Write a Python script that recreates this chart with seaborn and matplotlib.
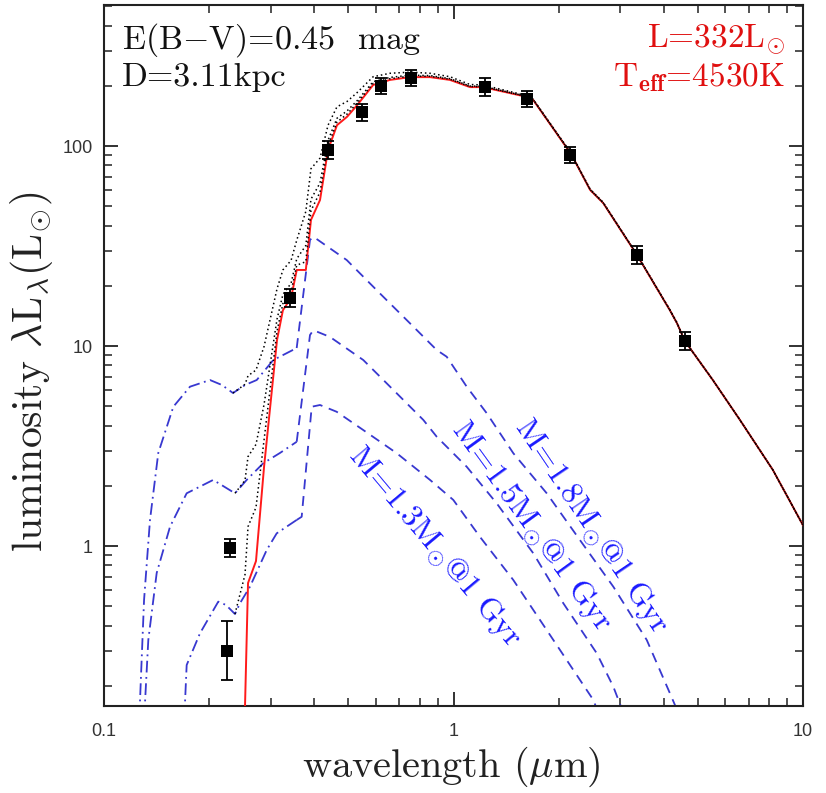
import matplotlib
matplotlib.use("Agg")
import matplotlib.pyplot as plt
import matplotlib.ticker as mticker
import seaborn as sns

# Broad-band photometry (dereddened), wavelength in micron, lambda*L_lambda in L_sun
phot_wave = [0.2255, 0.229, 0.34, 0.438, 0.547, 0.62, 0.755, 1.23, 1.62, 2.15, 3.35, 4.6]
phot_lum = [0.30, 0.98, 17.4, 95.5, 148, 200, 219, 197, 172, 90, 28.5, 10.6]
phot_err_lo = [0.086, 0.095, 1.7, 9, 14, 17, 20, 20, 16, 8, 2.7, 1.0]
phot_err_hi = [0.12, 0.105, 1.8, 10, 15, 18, 21, 21, 17, 9, 3.0, 1.1]

# Giant photosphere model (L=332 Lsun, Teff=4530 K)
star_wave = [0.2510, 0.2532, 0.2583, 0.2722, 0.287, 0.3126, 0.325, 0.343, 0.356, 0.378,
             0.391, 0.415, 0.4375, 0.464, 0.496, 0.530, 0.589, 0.658, 0.751, 0.857,
             0.977, 1.115, 1.214, 1.623, 1.69, 2.17, 2.46, 2.68, 3.35, 4.16,
             4.36, 4.59, 5.52, 6.6, 8.2, 10.0]
star_lum = [0.05, 0.158, 0.653, 0.841, 2.48, 10.7, 15.1, 17.4, 24, 24,
            42.7, 53.7, 95.5, 127, 140, 160, 202, 214, 221, 221,
            214, 197, 197, 176, 170, 91.2, 60.3, 51.9, 28.5, 15.1,
            13.0, 10.6, 6.76, 4.27, 2.40, 1.27]

# Companion models at 1 Gyr: UV part (dash-dot) and optical/IR part (dashed)
m18_uv_wave = [0.1259, 0.1268, 0.1302, 0.1354, 0.1430, 0.1579, 0.1762, 0.2010, 0.2176,
               0.2339, 0.2532, 0.2735, 0.3051, 0.3559]
m18_uv_lum = [0.107, 0.170, 0.537, 1.35, 2.92, 4.97, 6.26, 6.76, 6.38,
              5.82, 6.38, 6.76, 8.51, 9.77]
m18_vis_wave = [0.3559, 0.3885, 0.3971, 0.4949, 0.6162, 0.7674, 0.8952, 0.9561, 1.091,
                1.245, 1.483, 1.848, 2.301, 2.866, 3.572, 4.164, 4.75]
m18_vis_lum = [9.77, 33.9, 35.2, 26.9, 18.3, 12.5, 9.55, 8.84, 6.26,
               4.61, 2.91, 1.835, 1.07, 0.626, 0.339, 0.183, 0.107]

m15_uv_wave = [0.1302, 0.1310, 0.1339, 0.1415, 0.1545, 0.1724, 0.2053, 0.2370, 0.2560,
               0.2853, 0.3189, 0.3559]
m15_uv_lum = [0.107, 0.164, 0.339, 0.733, 1.249, 1.835, 2.14, 1.835, 2.14,
              2.59, 2.92, 3.32]
m15_vis_wave = [0.3559, 0.3885, 0.3971, 0.4432, 0.5519, 0.6880, 0.8196, 0.8952, 1.091,
                1.329, 1.692, 2.062, 2.569, 2.866, 3.20]
m15_vis_lum = [3.32, 11.35, 12.0, 11.1, 8.51, 5.80, 4.27, 3.52, 2.49,
               1.635, 0.919, 0.517, 0.291, 0.198, 0.120]

m13_uv_wave = [0.1699, 0.1705, 0.1724, 0.1882, 0.2123, 0.2234, 0.2370, 0.2449, 0.2616,
               0.2921, 0.3120, 0.3559]
m13_uv_lum = [0.107, 0.164, 0.254, 0.366, 0.527, 0.507, 0.457, 0.517, 0.626,
              0.955, 1.157, 1.35]
m13_vis_wave = [0.3559, 0.3678, 0.3929, 0.4150, 0.4632, 0.5519, 0.6880, 0.8567, 0.9986,
                1.191, 1.483, 1.848, 2.202, 2.512, 2.714]
m13_vis_lum = [1.35, 1.40, 4.97, 5.07, 4.69, 3.80, 2.91, 2.14, 1.70,
               1.11, 0.676, 0.380, 0.240, 0.170, 0.120]

# Giant + companion totals (dotted)
total_wave = [0.2532, 0.2583, 0.2722, 0.287, 0.3126, 0.325, 0.343, 0.356, 0.378,
              0.391, 0.415, 0.4375, 0.464, 0.496, 0.530, 0.589, 0.658, 0.751, 0.857,
              0.977, 1.115, 1.214, 1.623, 1.69, 2.17, 2.46, 2.68, 3.35, 4.16,
              4.36, 4.59, 5.52, 6.6, 8.2, 10.0]
total18_start = (0.2339, 5.82)
total18_lum = [6.43, 7.1, 7.58, 9.93, 19.3, 24.0, 26.8, 33.8, 47.1,
               77, 87, 127, 157, 167, 185, 222, 231, 234, 231,
               222, 203, 202, 178.5, 171.5, 92.2, 60.9, 52.3, 28.7, 15.2,
               13.1, 10.6, 6.77, 4.27, 2.40, 1.27]
total15_start = (0.2370, 1.835)
total15_lum = [2.13, 2.8, 3.22, 5.09, 13.6, 18.1, 20.6, 27.3, 31.8,
               54.2, 65.3, 106.7, 137.6, 149.8, 168.5, 209.7, 220.3, 226, 224.9,
               217.1, 199.4, 199, 177, 170.7, 91.5, 60.5, 52.0, 28.6, 15.1,
               13.0, 10.6, 6.76, 4.27, 2.40, 1.27]
total13_start = (0.2370, 0.457)
total13_lum = [0.72, 1.25, 1.56, 3.38, 11.86, 16.3, 18.7, 25.35, 26.4,
               47.5, 58.8, 100.4, 131.7, 144.4, 164, 205.5, 217, 223.6, 223.1,
               215.8, 198.3, 198, 176.5, 170.3, 91.3, 60.4, 51.95, 28.5, 15.1,
               13.0, 10.6, 6.76, 4.27, 2.40, 1.27]

mass_labels = ["M=1.8M$_{\\odot}$@1 Gyr",
               "M=1.5M$_{\\odot}$@1 Gyr",
               "M=1.3M$_{\\odot}$@1 Gyr"]

sns.set_theme(style="ticks")
plt.rcParams["mathtext.fontset"] = "cm"
plt.rcParams["font.family"] = ["Liberation Sans", "DejaVu Sans"]
serif = ["cmr10", "DejaVu Serif"]

fig = plt.figure(figsize=(8.26, 7.93), dpi=100)
ax = fig.add_axes([104 / 826, 1 - 706 / 793, 699 / 826, 701 / 793])
ax.set_xscale("log")
ax.set_yscale("log")

blue = "#3838d0"
dash = (0, (5.5, 3.8))
dashdot = (0, (6.5, 2.5, 1.0, 2.5))
dotted = (0, (1.0, 1.9))

for uvw, uvl, vw, vl in [(m18_uv_wave, m18_uv_lum, m18_vis_wave, m18_vis_lum),
                         (m15_uv_wave, m15_uv_lum, m15_vis_wave, m15_vis_lum),
                         (m13_uv_wave, m13_uv_lum, m13_vis_wave, m13_vis_lum)]:
    sns.lineplot(x=uvw, y=uvl, ax=ax, sort=False, estimator=None, color=blue,
                 linewidth=1.3, linestyle=dashdot, zorder=2)
    sns.lineplot(x=vw, y=vl, ax=ax, sort=False, estimator=None, color=blue,
                 linewidth=1.3, linestyle=dash, zorder=2)

sns.lineplot(x=star_wave, y=star_lum, ax=ax, sort=False, estimator=None,
             color="#ff1a1a", linewidth=1.4, zorder=3)

for start, lum in [(total18_start, total18_lum), (total15_start, total15_lum),
                   (total13_start, total13_lum)]:
    sns.lineplot(x=[start[0]] + total_wave, y=[start[1]] + lum, ax=ax, sort=False,
                 estimator=None, color="black", linewidth=1.1, linestyle=dotted, zorder=4)

ax.errorbar(phot_wave, phot_lum, yerr=[phot_err_lo, phot_err_hi], fmt="none",
            ecolor="black", elinewidth=1.3, capsize=4.5, capthick=1.3, zorder=5)
sns.scatterplot(x=phot_wave, y=phot_lum, ax=ax, marker="s", s=70, color="black",
                edgecolor="black", linewidth=0, zorder=6)

ax.set_xlim(0.1, 10)
ax.set_ylim(0.1585, 507)

ax.xaxis.set_major_locator(mticker.FixedLocator([0.1, 1, 10]))
ax.xaxis.set_major_formatter(mticker.FixedFormatter(["0.1", "1", "10"]))
ax.yaxis.set_major_locator(mticker.FixedLocator([1, 10, 100]))
ax.yaxis.set_major_formatter(mticker.FixedFormatter(["1", "10", "100"]))
ax.xaxis.set_minor_locator(mticker.LogLocator(base=10, subs=range(2, 10), numticks=20))
ax.yaxis.set_minor_locator(mticker.LogLocator(base=10, subs=range(2, 10), numticks=20))
ax.xaxis.set_minor_formatter(mticker.NullFormatter())
ax.yaxis.set_minor_formatter(mticker.NullFormatter())

ax.tick_params(which="both", direction="in", top=True, right=True, color="#222222",
               labelcolor="#333333", labelsize=13)
ax.tick_params(which="major", length=10, width=1.3)
ax.tick_params(which="minor", length=5.5, width=1.1)
ax.tick_params(axis="x", which="major", pad=12)
ax.tick_params(axis="y", which="major", pad=8)
for sp in ax.spines.values():
    sp.set_linewidth(1.5)
    sp.set_color("#222222")
ax.grid(False)
ax.set_xlabel("")
ax.set_ylabel("")

fig.text(451 / 826, 1 - 767 / 793, "wavelength ($\\mu$m)", family=serif,
         ha="center", va="center", fontsize=29, color="#222222")
fig.text(32 / 826, 1 - 372 / 793, "luminosity $\\lambda$L$_{\\lambda}$(L$_{\\odot}$)",
         family=serif, ha="center", va="center", rotation=90, fontsize=30, color="#222222")

ax.text(0.026, 0.950, "E(B$-$V)=0.45  mag", transform=ax.transAxes, family=serif,
        ha="left", va="center", fontsize=24.5, color="#111111")
ax.text(0.026, 0.897, "D=3.11kpc", transform=ax.transAxes, family=serif,
        ha="left", va="center", fontsize=24.5, color="#111111")
ax.text(0.974, 0.950, "L=332L$_{\\odot}$", transform=ax.transAxes, family=serif,
        ha="right", va="center", fontsize=24, color="#e01010")
ax.text(0.974, 0.897, "T$_{\\mathbf{eff}}$=4530K", transform=ax.transAxes, family=serif,
        ha="right", va="center", fontsize=24, color="#e01010")

label_pos = [(0.697, 0.256), (0.612, 0.256), (0.4735, 0.227)]
label_angle = [-56, -54, -50]
for text, (lx, ly), ang in zip(mass_labels, label_pos, label_angle):
    ax.text(lx, ly, text, transform=ax.transAxes, rotation=ang, rotation_mode="anchor",
            family=serif, ha="center", va="center", fontsize=23, color="#1a1aff")

fig.savefig("out.png", dpi=100)
